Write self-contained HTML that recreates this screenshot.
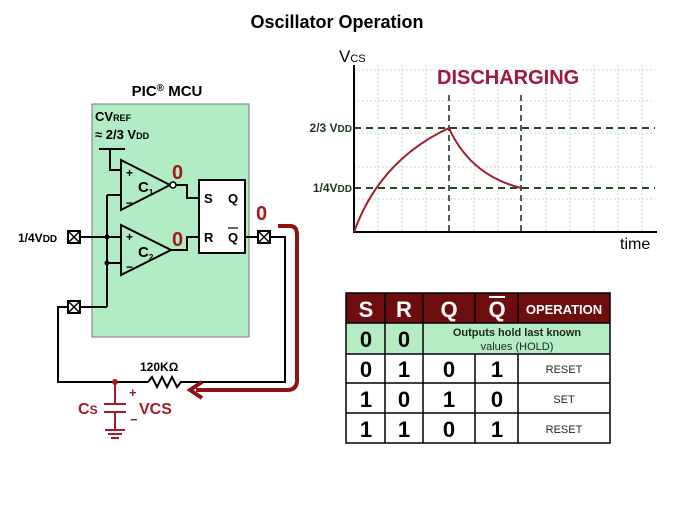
<!DOCTYPE html>
<html><head><meta charset="utf-8"><style>
body{margin:0;background:#fff;width:675px;height:506px;overflow:hidden}
text{font-family:"Liberation Sans",Arial,sans-serif;font-weight:bold}
</style></head><body>
<svg width="675" height="506" viewBox="0 0 675 506" xmlns="http://www.w3.org/2000/svg">
<text x="337" y="28" font-size="18" text-anchor="middle" fill="#000">Oscillator Operation</text>

<g stroke="#c8d8d0" stroke-width="1" stroke-dasharray="2,2">
<line x1="378" y1="65" x2="378" y2="232"/><line x1="402" y1="65" x2="402" y2="232"/><line x1="426" y1="65" x2="426" y2="232"/>
<line x1="474" y1="65" x2="474" y2="232"/><line x1="498" y1="65" x2="498" y2="232"/><line x1="546" y1="65" x2="546" y2="232"/>
<line x1="570" y1="65" x2="570" y2="232"/><line x1="594" y1="65" x2="594" y2="232"/><line x1="618" y1="65" x2="618" y2="232"/><line x1="642" y1="65" x2="642" y2="232"/>
<line x1="354" y1="70" x2="655" y2="70"/><line x1="354" y1="101" x2="655" y2="101"/><line x1="354" y1="133" x2="655" y2="133"/><line x1="354" y1="167" x2="655" y2="167"/><line x1="354" y1="199" x2="655" y2="199"/>
</g>
<g stroke="#1e4a1e" stroke-width="2" stroke-dasharray="7,5">
<line x1="354" y1="128" x2="655" y2="128"/><line x1="354" y1="188" x2="655" y2="188"/>
</g>
<g stroke="#222" stroke-width="1.5" stroke-dasharray="6,4">
<line x1="449" y1="95" x2="449" y2="232"/><line x1="521" y1="95" x2="521" y2="232"/>
</g>
<path d="M354 65 V232 H657" fill="none" stroke="#000" stroke-width="2"/>
<path d="M354 232 Q380 160 449 128 Q470 175 521 188" fill="none" stroke="#a01c2a" stroke-width="2"/>
<text x="339" y="62" font-size="17" style="font-weight:normal" fill="#000">V<tspan font-size="11">CS</tspan></text>
<text x="437" y="84" font-size="20" fill="#a0183a">DISCHARGING</text>
<text x="352" y="132" font-size="12" text-anchor="end" fill="#1e3a1e">2/3 V<tspan font-size="10">DD</tspan></text>
<text x="352" y="192" font-size="12" text-anchor="end" fill="#1e3a1e">1/4V<tspan font-size="10">DD</tspan></text>
<text x="620" y="249" font-size="16" style="font-weight:normal" fill="#000">time</text>

<text x="167" y="96" font-size="15" text-anchor="middle" fill="#000">PIC<tspan font-size="10" dy="-5">®</tspan><tspan dy="5"> MCU</tspan></text>
<rect x="92" y="104" width="157" height="233" fill="#b2ecc4" stroke="#777" stroke-width="1"/>
<text x="95" y="121" font-size="13" fill="#000">CV<tspan font-size="9">REF</tspan></text>
<text x="95" y="139" font-size="13" fill="#000">≈ 2/3 V<tspan font-size="9">DD</tspan></text>
<g stroke="#000" stroke-width="2" fill="none">
<line x1="99" y1="149" x2="125" y2="149"/>
<path d="M110 149 V170 H121"/>
<path d="M107 195 V307"/>
<line x1="107" y1="195" x2="121" y2="195"/>
<line x1="80" y1="237" x2="121" y2="237"/>
<line x1="107" y1="263" x2="121" y2="263"/>
<line x1="80" y1="307" x2="107" y2="307"/>
<path d="M121 160 L170 185 L121 210 Z" fill="#b2ecc4"/>
<path d="M121 225 L171 250 L121 275 Z" fill="#b2ecc4"/>
<path d="M175 185 H187 V198 H199"/>
<path d="M171 250 H187 V237 H199"/>
<rect x="199" y="180" width="46" height="73" fill="#fff"/>
<line x1="245" y1="237" x2="258" y2="237"/>
<path d="M270 237 H285 V382 H180"/>
<path d="M68 307 H58 V382 H148"/>
<path d="M148 382 l4 -5 l5 10 l5 -10 l5 10 l5 -10 l5 10 l4 -5"/>
</g>
<circle cx="173" cy="185" r="3" fill="#fff" stroke="#000" stroke-width="1.5"/>
<circle cx="107" cy="237" r="2.5" fill="#000"/><circle cx="107" cy="263" r="2.5" fill="#000"/>
<g font-size="12" fill="#000">
<text x="126" y="177">+</text><text x="126" y="207">−</text>
<text x="126" y="241">+</text><text x="126" y="271">−</text>
<text x="138" y="192" font-size="15">C<tspan font-size="8" dy="3">1</tspan></text>
<text x="138" y="257" font-size="15">C<tspan font-size="8" dy="3">2</tspan></text>
<text x="204" y="203" font-size="13">S</text><text x="228" y="203" font-size="13">Q</text>
<text x="204" y="242" font-size="13">R</text><text x="228" y="242" font-size="13">Q</text>
</g>
<line x1="228" y1="228" x2="238" y2="228" stroke="#000" stroke-width="1.2"/>
<g stroke="#000" stroke-width="2" fill="#fff">
<rect x="68" y="231" width="12" height="12"/><rect x="68" y="301" width="12" height="12"/><rect x="258" y="231" width="12" height="12"/>
</g>
<g stroke="#000" stroke-width="1.5">
<path d="M68 231 L80 243 M80 231 L68 243"/><path d="M68 301 L80 313 M80 301 L68 313"/><path d="M258 231 L270 243 M270 231 L258 243"/>
</g>
<text x="18" y="242" font-size="12" fill="#000">1/4V<tspan font-size="10">DD</tspan></text>
<g fill="#a01c1c" font-size="20">
<text x="172" y="179">0</text><text x="172" y="246">0</text><text x="256" y="220">0</text>
</g>
<text x="140" y="371" font-size="12" fill="#000">120KΩ</text>
<path d="M278 226 H290 Q297 226 297 235 V380 Q297 390 287 390 H196" fill="none" stroke="#8c1414" stroke-width="4"/>
<path d="M202 382 L190 390 L202 398" fill="none" stroke="#8c1414" stroke-width="4"/>
<g stroke="#a01c2a" stroke-width="2" fill="none">
<path d="M115 382 V404 M104 404 H126 M104 412 H126 M115 412 V430 M105 430 H125 M108 434 H122 M111 438 H119"/>
</g>
<circle cx="115" cy="382" r="3" fill="#a01c2a"/>
<g fill="#a01c2a">
<text x="78" y="414" font-size="16">C<tspan font-size="12">S</tspan></text>
<text x="129" y="397" font-size="13">+</text>
<text x="139" y="414" font-size="16">VCS</text>
<text x="130" y="424" font-size="13">−</text>
</g>

<rect x="346" y="293" width="264" height="30" fill="#6e0d0d"/>
<rect x="346" y="323" width="264" height="31" fill="#b5ecc4"/>
<g stroke="#000" stroke-width="1.5" fill="none">
<rect x="346" y="293" width="264" height="150"/>
<line x1="346" y1="323" x2="610" y2="323"/><line x1="346" y1="354" x2="610" y2="354"/><line x1="346" y1="383" x2="610" y2="383"/><line x1="346" y1="413" x2="610" y2="413"/>
<line x1="385" y1="293" x2="385" y2="443"/><line x1="423" y1="293" x2="423" y2="443"/>
<line x1="475" y1="293" x2="475" y2="323"/><line x1="475" y1="354" x2="475" y2="443"/>
<line x1="518" y1="293" x2="518" y2="323"/><line x1="518" y1="354" x2="518" y2="443"/>
</g>
<g fill="#fff" font-size="22" text-anchor="middle">
<text x="366" y="317">S</text><text x="404" y="317">R</text><text x="449" y="317">Q</text><text x="497" y="317">Q</text>
<text x="564" y="314" font-size="13">OPERATION</text>
</g>
<line x1="489" y1="297" x2="505" y2="297" stroke="#fff" stroke-width="2"/>
<g fill="#000" font-size="22" text-anchor="middle">
<text x="366" y="347">0</text><text x="404" y="347">0</text>
<text x="366" y="377">0</text><text x="404" y="377">1</text><text x="449" y="377">0</text><text x="497" y="377">1</text>
<text x="366" y="407">1</text><text x="404" y="407">0</text><text x="449" y="407">1</text><text x="497" y="407">0</text>
<text x="366" y="437">1</text><text x="404" y="437">1</text><text x="449" y="437">0</text><text x="497" y="437">1</text>
</g>
<g fill="#1a2a1a" font-size="11" text-anchor="middle">
<text x="517" y="336">Outputs hold last known</text>
<text x="517" y="350" style="font-weight:normal">values (HOLD)</text>
<text x="564" y="373" style="font-weight:normal">RESET</text><text x="564" y="403" style="font-weight:normal">SET</text><text x="564" y="433" style="font-weight:normal">RESET</text>
</g>
</svg>
</body></html>
